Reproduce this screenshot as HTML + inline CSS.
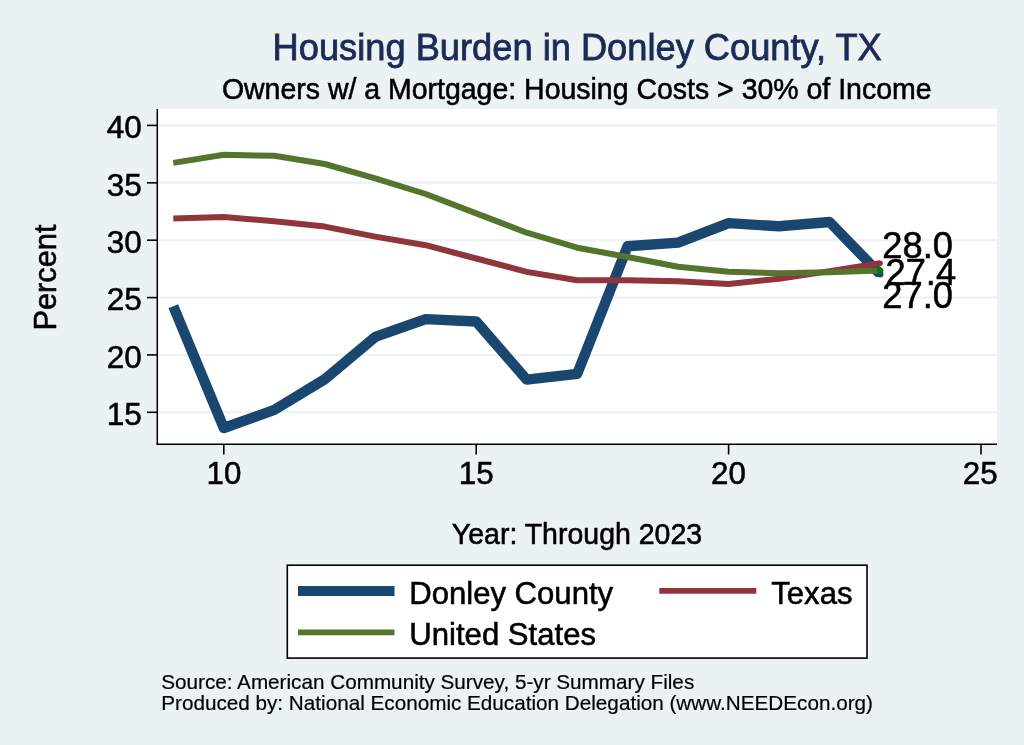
<!DOCTYPE html>
<html><head><meta charset="utf-8"><style>
html,body{margin:0;padding:0;background:#eaf2f3;}
svg{display:block;will-change:transform;}
text{font-family:"Liberation Sans", sans-serif;fill:#000;stroke:#000;stroke-width:0.55px;}
</style></head><body>
<svg width="1024" height="745" viewBox="0 0 1024 745">
<rect x="0" y="0" width="1024" height="745" fill="#eaf2f3"/>
<rect x="157" y="109" width="840" height="335" fill="#fff"/>
<line x1="158" y1="412.3" x2="997" y2="412.3" stroke="#eaf2f3" stroke-width="2"/>
<line x1="158" y1="354.9" x2="997" y2="354.9" stroke="#eaf2f3" stroke-width="2"/>
<line x1="158" y1="297.6" x2="997" y2="297.6" stroke="#eaf2f3" stroke-width="2"/>
<line x1="158" y1="240.2" x2="997" y2="240.2" stroke="#eaf2f3" stroke-width="2"/>
<line x1="158" y1="182.8" x2="997" y2="182.8" stroke="#eaf2f3" stroke-width="2"/>
<line x1="158" y1="125.4" x2="997" y2="125.4" stroke="#eaf2f3" stroke-width="2"/>

<text x="272.6" y="60" font-size="36.25" style="fill:#1c2b56;stroke:#1c2b56;stroke-width:0.8px">Housing Burden in Donley County, TX</text>
<text transform="translate(221.9,99.1) scale(1,1.05)" font-size="28.47">Owners w/ a Mortgage: Housing Costs &gt; 30% of Income</text>
<polyline points="173.3,306.3 223.8,428.0 274.3,409.9 324.8,379.3 375.2,336.9 425.7,319.1 476.2,321.5 526.7,379.6 577.2,373.8 627.6,246.2 678.1,242.6 728.6,223.1 779.1,226.3 829.6,222.0 880.0,274.0" fill="none" stroke="#1a476f" stroke-width="10.4" stroke-linejoin="round"/>
<circle cx="880.0" cy="274.0" r="3.5" fill="#1a476f"/>
<polyline points="173.3,218.5 223.8,217.0 274.3,221.3 324.8,226.6 375.2,236.6 425.7,245.2 476.2,258.5 526.7,271.9 577.2,280.3 627.6,280.3 678.1,281.3 728.6,284.0 779.1,278.8 829.6,271.1 880.0,263.3" fill="none" stroke="#90353b" stroke-width="6" stroke-linejoin="round"/>
<circle cx="880.0" cy="263.3" r="2.9" fill="#90353b"/>
<polyline points="173.3,162.9 223.8,154.8 274.3,155.8 324.8,164.0 375.2,178.3 425.7,194.0 476.2,213.4 526.7,232.7 577.2,247.7 627.6,257.0 678.1,266.7 728.6,271.8 779.1,273.3 829.6,272.3 880.0,270.4" fill="none" stroke="#55752f" stroke-width="6" stroke-linejoin="round"/>
<circle cx="880.0" cy="270.4" r="3.2" fill="#008000"/>
<line x1="157.3" y1="109" x2="157.3" y2="444.6" stroke="#000" stroke-width="1.5"/>
<line x1="156.5" y1="444.3" x2="997" y2="444.3" stroke="#000" stroke-width="1.5"/>
<line x1="147" y1="412.3" x2="157" y2="412.3" stroke="#000" stroke-width="1.6"/>
<text x="141.7" y="425.1" text-anchor="end" font-size="31.5">15</text>
<line x1="147" y1="354.9" x2="157" y2="354.9" stroke="#000" stroke-width="1.6"/>
<text x="141.7" y="367.7" text-anchor="end" font-size="31.5">20</text>
<line x1="147" y1="297.6" x2="157" y2="297.6" stroke="#000" stroke-width="1.6"/>
<text x="141.7" y="310.4" text-anchor="end" font-size="31.5">25</text>
<line x1="147" y1="240.2" x2="157" y2="240.2" stroke="#000" stroke-width="1.6"/>
<text x="141.7" y="253.0" text-anchor="end" font-size="31.5">30</text>
<line x1="147" y1="182.8" x2="157" y2="182.8" stroke="#000" stroke-width="1.6"/>
<text x="141.7" y="195.6" text-anchor="end" font-size="31.5">35</text>
<line x1="147" y1="125.4" x2="157" y2="125.4" stroke="#000" stroke-width="1.6"/>
<text x="141.7" y="138.2" text-anchor="end" font-size="31.5">40</text>

<line x1="223.8" y1="444" x2="223.8" y2="454.5" stroke="#000" stroke-width="1.6"/>
<text x="223.90" y="483.8" text-anchor="middle" font-size="31.3">10</text>
<line x1="476.2" y1="444" x2="476.2" y2="454.5" stroke="#000" stroke-width="1.6"/>
<text x="476.15" y="483.8" text-anchor="middle" font-size="31.3">15</text>
<line x1="728.6" y1="444" x2="728.6" y2="454.5" stroke="#000" stroke-width="1.6"/>
<text x="728.45" y="483.8" text-anchor="middle" font-size="31.3">20</text>
<line x1="981.0" y1="444" x2="981.0" y2="454.5" stroke="#000" stroke-width="1.6"/>
<text x="980.15" y="483.8" text-anchor="middle" font-size="31.3">25</text>

<text x="882.3" y="258" font-size="36.3">28.0</text>
<text x="885.5" y="284.8" font-size="36.3">27.4</text>
<text x="882.3" y="308" font-size="36.3">27.0</text>
<text transform="translate(55.8,330.6) rotate(-90)" font-size="30.8">Percent</text>
<text transform="translate(451.8,544) scale(1,1.05)" font-size="28.5">Year: Through 2023</text>
<rect x="287.3" y="565.2" width="579.7" height="92.9" fill="#fff" stroke="#000" stroke-width="1.6"/>
<line x1="298" y1="591" x2="394.5" y2="591" stroke="#1a476f" stroke-width="10"/>
<line x1="659.3" y1="590.9" x2="756.3" y2="590.9" stroke="#90353b" stroke-width="5.8"/>
<line x1="298" y1="632.4" x2="394.5" y2="632.4" stroke="#55752f" stroke-width="5.8"/>
<text x="409.2" y="604" font-size="31.1">Donley County</text>
<text x="771.25" y="604.4" font-size="31.1">Texas</text>
<text x="409.3" y="644.8" font-size="31.1">United States</text>
<text x="161.2" y="688.8" font-size="20.7" style="stroke-width:0.2px">Source: American Community Survey, 5-yr Summary Files</text>
<text x="161.2" y="709.9" font-size="20.7" style="stroke-width:0.2px">Produced by: National Economic Education Delegation (www.NEEDEcon.org)</text>
</svg>
</body></html>
